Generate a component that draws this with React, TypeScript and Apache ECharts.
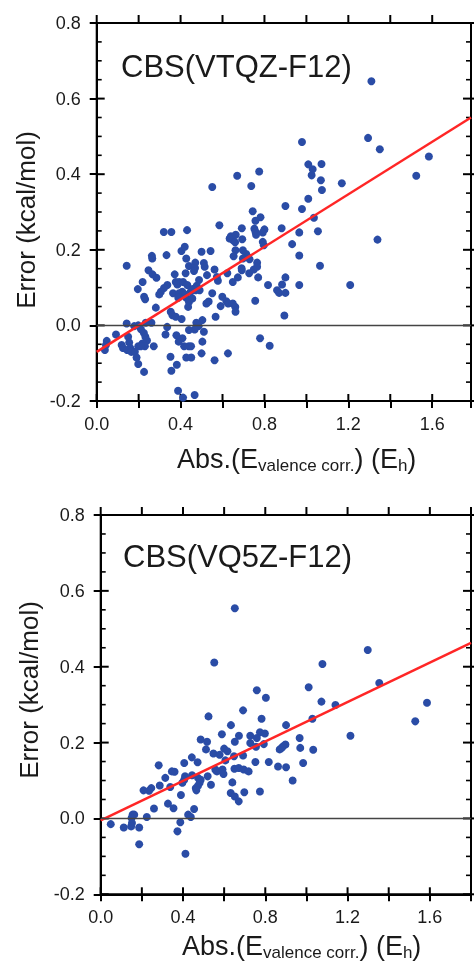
import React, { useEffect, useRef } from 'react';
import * as echarts from 'echarts';

const FONT = 'Liberation Sans';

const panelTitles = ['CBS(VTQZ-F12)', 'CBS(VQ5Z-F12)'];
const xTickLabels = ['0.0', '0.4', '0.8', '1.2', '1.6'];
const yTickLabels = ['-0.2', '0.0', '0.2', '0.4', '0.6', '0.8'];
const xTickStep = 0.2;
const yTickStep = 0.2;
const yMinorStep = 0.05;
const yAxisTitle = 'Error (kcal/mol)';
const xAxisTitleRich = '{a|Abs.(E}{s|valence corr.}{a|) (E}{s|h}{a|)}';

// CBS(VTQZ-F12) panel
const vtqzUpper: number[][] = [
  [1.310, 0.646], [0.979, 0.485], [1.294, 0.496], [1.350, 0.466], [1.584, 0.447],
  [1.524, 0.396], [1.009, 0.426], [1.030, 0.413], [1.072, 0.427], [1.025, 0.397],
  [1.069, 0.384], [1.074, 0.358], [1.169, 0.376], [1.009, 0.335], [0.979, 0.308],
  [1.036, 0.285], [0.900, 0.316], [0.670, 0.396], [0.775, 0.407], [0.737, 0.369],
  [0.551, 0.366], [0.744, 0.302], [0.781, 0.286], [0.757, 0.277],
];
const vtqzMid: number[][] = [
  [0.585, 0.265], [0.692, 0.257], [0.752, 0.256], [0.800, 0.254], [0.792, 0.246],
  [0.757, 0.248], [0.760, 0.240], [0.882, 0.257], [0.966, 0.246], [1.055, 0.249],
  [1.339, 0.227], [0.320, 0.247], [0.356, 0.247], [0.431, 0.252], [0.634, 0.230],
  [0.649, 0.226], [0.694, 0.228], [0.792, 0.221], [0.797, 0.212], [0.640, 0.236],
  [0.663, 0.240], [0.660, 0.220], [0.932, 0.215], [0.662, 0.199], [0.697, 0.199],
  [0.713, 0.189], [0.721, 0.181], [0.653, 0.183], [0.697, 0.177], [0.966, 0.185],
  [0.404, 0.197], [0.420, 0.208], [0.500, 0.195], [0.543, 0.197], [0.263, 0.184],
  [0.265, 0.177], [0.333, 0.186],
];
const vtqzLowerMid: number[][] = [
  [0.143, 0.158], [0.247, 0.146], [0.266, 0.135], [0.285, 0.126], [0.219, 0.115],
  [0.372, 0.135], [0.377, 0.115], [0.393, 0.115], [0.385, 0.108], [0.412, 0.115],
  [0.424, 0.138], [0.440, 0.157], [0.432, 0.107], [0.427, 0.177], [0.470, 0.166],
  [0.469, 0.152], [0.464, 0.144], [0.511, 0.165], [0.515, 0.155], [0.562, 0.148],
  [0.573, 0.128], [0.578, 0.118], [0.526, 0.133], [0.623, 0.138], [0.649, 0.115],
  [0.673, 0.127], [0.692, 0.146], [0.727, 0.138], [0.729, 0.175], [0.749, 0.148],
  [0.765, 0.166], [0.765, 0.155], [0.691, 0.151], [0.770, 0.127], [0.817, 0.107],
  [0.900, 0.127], [0.884, 0.108], [0.966, 0.107], [1.065, 0.158], [1.209, 0.107],
  [0.337, 0.107], [0.321, 0.099], [0.306, 0.089], [0.298, 0.082], [0.196, 0.096],
];
const vtqzLower: number[][] = [
  [0.226, 0.076], [0.231, 0.069], [0.282, 0.047], [0.364, 0.085], [0.408, 0.089],
  [0.393, 0.085], [0.421, 0.082], [0.427, 0.073], [0.389, 0.073], [0.448, 0.089],
  [0.456, 0.096], [0.472, 0.093], [0.477, 0.105], [0.491, 0.093], [0.488, 0.120],
  [0.440, 0.062], [0.456, 0.071], [0.436, 0.049], [0.353, 0.036], [0.361, 0.027],
  [0.377, 0.023], [0.405, 0.017], [0.551, 0.085], [0.534, 0.063], [0.523, 0.058],
  [0.567, 0.023], [0.599, 0.076], [0.618, 0.064], [0.627, 0.058], [0.661, 0.049],
  [0.662, 0.036], [0.591, 0.051], [0.649, 0.058], [0.756, 0.065], [0.860, 0.093],
  [0.870, 0.086], [0.900, 0.086], [0.895, 0.026], [0.504, 0.014], [0.475, 0.007],
  [0.486, -0.002], [0.261, 0.007], [0.143, 0.005], [0.198, 0.000], [0.234, 0.007],
];
const vtqzNegative: number[][] = [
  [0.467, -0.011], [0.511, -0.017], [0.504, -0.043], [0.500, -0.074], [0.562, -0.092],
  [0.626, -0.074], [0.779, -0.034], [0.825, -0.054], [0.440, -0.012], [0.439, -0.055],
  [0.450, -0.055], [0.417, -0.055], [0.427, -0.085], [0.451, -0.085], [0.409, -0.034],
  [0.391, -0.043], [0.380, -0.026], [0.336, -0.004], [0.328, -0.024], [0.352, -0.083],
  [0.356, -0.120], [0.382, -0.104], [0.388, -0.173], [0.412, -0.191], [0.467, -0.184],
  [0.211, -0.010], [0.179, -0.002], [0.225, -0.020], [0.232, -0.030], [0.240, -0.040],
  [0.218, -0.048], [0.230, -0.055], [0.198, -0.055], [0.210, -0.055], [0.272, -0.055],
  [0.119, -0.052], [0.125, -0.060], [0.092, -0.024], [0.048, -0.041], [0.044, -0.052],
  [0.039, -0.065], [0.150, -0.030], [0.155, -0.045], [0.160, -0.060], [0.145, -0.065],
  [0.165, -0.070], [0.182, -0.070], [0.190, -0.085], [0.198, -0.102], [0.226, -0.123],
];
const vtqzFit: number[][] = [[0, -0.07], [1.785, 0.55]];

// CBS(VQ5Z-F12) panel
const vq5zUpper: number[][] = [
  [0.652, 0.554], [0.552, 0.411], [0.759, 0.338], [0.803, 0.318], [0.692, 0.285],
  [0.524, 0.269], [0.782, 0.263], [0.633, 0.246], [0.589, 0.222], [0.672, 0.218],
  [0.727, 0.218], [0.774, 0.227], [0.798, 0.224], [0.759, 0.212], [0.486, 0.208],
  [0.517, 0.202], [0.652, 0.202], [0.727, 0.199], [0.793, 0.196], [0.512, 0.182],
  [0.548, 0.171], [0.578, 0.168], [0.600, 0.184], [0.616, 0.177], [0.755, 0.189],
  [0.692, 0.166], [0.648, 0.164], [0.606, 0.153], [0.752, 0.149], [0.817, 0.149],
  [0.471, 0.148], [0.406, 0.146], [0.443, 0.161], [0.282, 0.140], [0.359, 0.123],
];
const vq5zMid: number[][] = [
  [0.520, 0.111], [0.557, 0.129], [0.565, 0.124], [0.592, 0.129], [0.597, 0.117],
  [0.650, 0.131], [0.671, 0.133], [0.695, 0.129], [0.719, 0.124], [0.410, 0.111],
  [0.406, 0.102], [0.397, 0.094], [0.444, 0.114], [0.473, 0.107], [0.486, 0.102],
  [0.481, 0.094], [0.473, 0.086], [0.462, 0.080], [0.465, 0.074], [0.536, 0.089],
  [0.640, 0.095], [0.632, 0.067], [0.652, 0.058], [0.671, 0.045], [0.698, 0.069],
  [0.774, 0.071], [0.314, 0.107], [0.338, 0.083], [0.246, 0.080], [0.235, 0.073],
  [0.208, 0.074], [0.287, 0.087], [0.390, 0.062], [0.327, 0.039], [0.354, 0.027],
  [0.259, 0.026], [0.346, 0.124],
];
const vq5zLow: number[][] = [
  [0.224, 0.004], [0.155, 0.010], [0.163, 0.010], [0.150, 0.001], [0.152, -0.012],
  [0.148, -0.021], [0.112, -0.024], [0.187, -0.024], [0.049, -0.015], [0.373, -0.034],
  [0.387, -0.010], [0.425, 0.010], [0.438, 0.004], [0.454, 0.025], [0.187, -0.068],
  [0.412, -0.093],
];
const vq5zRight: number[][] = [
  [1.214, 0.218], [1.529, 0.256], [1.033, 0.181], [0.984, 0.146], [0.933, 0.100],
  [0.967, 0.212], [0.970, 0.186], [0.901, 0.246], [0.870, 0.182], [0.886, 0.190],
  [0.898, 0.195], [0.901, 0.135], [0.862, 0.137], [1.298, 0.444], [1.078, 0.407],
  [1.011, 0.346], [1.354, 0.357], [1.073, 0.308], [1.141, 0.299], [1.586, 0.305],
  [1.029, 0.263], [0.880, 0.186],
];
const vq5zFit: number[][] = [[0, -0.005], [1.8, 0.463]];

const vtqzPoints = [...vtqzUpper, ...vtqzMid, ...vtqzLowerMid, ...vtqzLower, ...vtqzNegative];
const vq5zPoints = [...vq5zUpper, ...vq5zMid, ...vq5zLow, ...vq5zRight];

const Y_MIN = -0.2;
const Y_MAX = 0.8;

const panels = [
  { left: 96.7, top: 23, width: 375.6, height: 378, xMax: 1.785, points: vtqzPoints, fit: vtqzFit,
    titleX: 121, titleY: 66, xNameX: 177, xNameY: 459, yNameX: 26, yNameY: 220 },
  { left: 100.7, top: 515, width: 378, height: 379.3, xMax: 1.8, points: vq5zPoints, fit: vq5zFit,
    titleX: 123, titleY: 556, xNameX: 182, xNameY: 946, yNameX: 29, yNameY: 690 },
];

const BLACK = '#000000';
const TEXT = '#1a1a1a';
const DOT = '#2a4ca6';
const RED = '#ff2626';

function xFmt(v: number) {
  const s = v.toFixed(1);
  return xTickLabels.includes(s) && Math.abs(v - parseFloat(s)) < 1e-6 ? s : '';
}
function yFmt(v: number) {
  let s = v.toFixed(1);
  if (s === '-0.0') s = '0.0';
  return yTickLabels.includes(s) ? s : '';
}

function tickLine(x1: number, y1: number, x2: number, y2: number, w: number) {
  return {
    type: 'line',
    shape: { x1, y1, x2, y2 },
    style: { stroke: BLACK, lineWidth: w },
  };
}

export default function App() {
  const ref = useRef<HTMLDivElement>(null);
  useEffect(() => {
    if (!ref.current) return;
    const chart = echarts.init(ref.current, undefined, { renderer: 'svg' });
    const grid: any[] = [];
    const xAxis: any[] = [];
    const yAxis: any[] = [];
    const series: any[] = [];
    panels.forEach((p, i) => {
      grid.push({
        left: p.left, top: p.top, width: p.width, height: p.height, containLabel: false,
        show: true, borderColor: BLACK, borderWidth: 2,
      });
      xAxis.push({
        type: 'value', gridIndex: i, position: 'bottom', min: 0, max: p.xMax, interval: xTickStep,
        splitLine: { show: false },
        axisLine: { show: true, onZero: false, lineStyle: { color: BLACK, width: 2 } },
        axisTick: { show: true, inside: false, length: 7, lineStyle: { color: BLACK, width: 2 } },
        axisLabel: { show: true, formatter: xFmt, fontSize: 18, color: TEXT, fontFamily: FONT, margin: 14 },
      });
      yAxis.push({
        type: 'value', gridIndex: i, position: 'left', min: Y_MIN, max: Y_MAX, interval: yTickStep,
        splitLine: { show: false },
        axisLine: { show: true, onZero: false, lineStyle: { color: BLACK, width: 2 } },
        axisTick: { show: true, inside: false, length: 7, lineStyle: { color: BLACK, width: 2 } },
        axisLabel: { show: true, formatter: yFmt, fontSize: 18, color: TEXT, fontFamily: FONT, margin: 16 },
      });
      series.push({
        type: 'scatter', xAxisIndex: i, yAxisIndex: i,
        data: p.points, symbol: 'circle', symbolSize: 8,
        itemStyle: { color: DOT, opacity: 1 },
        markLine: {
          silent: true, symbol: 'none', label: { show: false },
          lineStyle: { color: '#444', width: 1.4, type: 'solid' },
          data: [{ yAxis: 0 }],
        },
      });
      series.push({
        type: 'line', xAxisIndex: i, yAxisIndex: i,
        data: p.fit, symbol: 'none', showSymbol: false,
        lineStyle: { color: RED, width: 2.5 },
      });
    });
    chart.setOption({ animation: false, grid, xAxis, yAxis, series });

    const graphic: any[] = [];
    panels.forEach((p, i) => {
      const px = (v: number) => Number(chart.convertToPixel({ xAxisIndex: i } as any, v));
      const py = (v: number) => Number(chart.convertToPixel({ yAxisIndex: i } as any, v));
      const leftX = px(0);
      const rightX = px(p.xMax);
      const bottomY = py(Y_MIN);
      const topY = py(Y_MAX);
      const nX = Math.floor(p.xMax / xTickStep + 1e-6);
      for (let k = 0; k <= nX; k++) {
        const x = px(k * xTickStep);
        graphic.push(tickLine(x, bottomY - 7, x, bottomY, 2));
        graphic.push(tickLine(x, topY - 8, x, topY, 2));
      }
      const nY = Math.round((Y_MAX - Y_MIN) / yMinorStep);
      for (let k = 0; k <= nY; k++) {
        const v = Y_MIN + k * yMinorStep;
        const y = py(v);
        if (k % 4 === 0) {
          graphic.push(tickLine(leftX, y, leftX + 8, y, 2));
          graphic.push(tickLine(rightX - 8, y, rightX + 7, y, 2));
        } else {
          graphic.push(tickLine(leftX, y, leftX + 5, y, 1.6));
          graphic.push(tickLine(rightX - 5, y, rightX, y, 1.6));
        }
      }
      graphic.push({
        type: 'text', x: p.titleX, y: p.titleY,
        style: { text: panelTitles[i], fontSize: 31, fontFamily: FONT, fill: TEXT, align: 'left', verticalAlign: 'middle' },
      });
      graphic.push({
        type: 'text', x: p.yNameX, y: p.yNameY, rotation: Math.PI / 2,
        style: { text: yAxisTitle, fontSize: 26, fontFamily: FONT, fill: TEXT, align: 'center', verticalAlign: 'middle' },
      });
      graphic.push({
        type: 'text', x: p.xNameX, y: p.xNameY,
        style: {
          text: xAxisTitleRich, align: 'left', verticalAlign: 'middle', fill: TEXT, fontFamily: FONT,
          rich: {
            a: { fontSize: 27, fontFamily: FONT, lineHeight: 30, fill: TEXT, verticalAlign: 'middle' },
            s: { fontSize: 17, fontFamily: FONT, lineHeight: 2, fill: TEXT, verticalAlign: 'bottom' },
          },
        },
      });
    });
    chart.setOption({ graphic });
    return () => chart.dispose();
  }, []);
  return (
    <div
      ref={ref}
      style={{ position: 'fixed', left: 0, top: 0, width: 474, height: 964 }}
    />
  );
}
